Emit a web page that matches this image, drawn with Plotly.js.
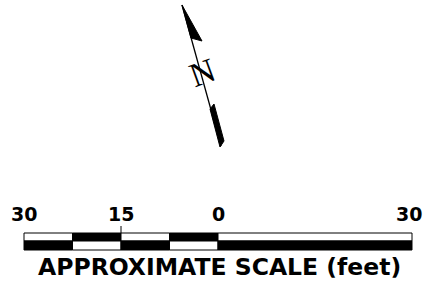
<!DOCTYPE html>
<html><head><meta charset="utf-8">
<script src="https://cdn.plot.ly/plotly-3.0.1.min.js"></script>
<style>html,body{margin:0;padding:0;background:#fff}#c{width:425px;height:286px}</style>
</head><body><div id="c"></div>
<script>
// Scale bar (feet)
const segEdges = [-30, -22.5, -15, -7.5, 0, 30];
const topRowBlack = [false, true, false, true, false];
const scaleLabelValues = [-30, -15, 0, 30];
const scaleLabelText = ['30', '15', '0', '30'];
const tickFeet = [-15];
const scaleTitle = 'APPROXIMATE SCALE (feet)';
// North arrow outline (drawing units)
const shaftX = [182, 221];
const shaftY = [5, 146];
const headTopX = [182, 202, 191, 182];
const headTopY = [5, 41, 38, 5];
const headBotX = [210, 214, 224, 220, 210];
const headBotY = [109, 104, 141, 147, 109];
const northLabel = 'N';

const barTop = 233, barMid = 241, barBot = 250;
const traces = [];
function rect(x0, x1, y0, y1, fill) {
  traces.push({x: [x0, x1, x1, x0, x0], y: [y0, y0, y1, y1, y0], mode: 'lines', fill: 'toself',
    fillcolor: fill, line: {color: '#000', width: 1}, hoverinfo: 'skip', showlegend: false});
}
for (let i = 0; i < segEdges.length - 1; i++) {
  rect(segEdges[i], segEdges[i+1], barTop, barMid, topRowBlack[i] ? '#000' : '#fff');
  rect(segEdges[i], segEdges[i+1], barMid, barBot, topRowBlack[i] ? '#fff' : '#000');
}
tickFeet.forEach(t => traces.push({x: [t, t], y: [226, barTop], mode: 'lines', line: {color: '#000', width: 1}, showlegend: false, hoverinfo: 'skip'}));
// arrow
traces.push({x: shaftX, y: shaftY, xaxis: 'x2', mode: 'lines', line: {color: '#000', width: 1.3}, showlegend: false, hoverinfo: 'skip'});
traces.push({x: headTopX, y: headTopY, xaxis: 'x2', mode: 'lines', fill: 'toself', fillcolor: '#000', line: {color: '#000', width: 1}, showlegend: false, hoverinfo: 'skip'});
traces.push({x: headBotX, y: headBotY, xaxis: 'x2', mode: 'lines', fill: 'toself', fillcolor: '#000', line: {color: '#000', width: 1}, showlegend: false, hoverinfo: 'skip'});

const annotations = scaleLabelValues.map((v, i) => ({x: v, y: 214, xref: 'x', yref: 'y', text: scaleLabelText[i],
  showarrow: false, xanchor: 'center', yanchor: 'middle', xshift: (i === 3 ? -3 : 0),
  font: {family: 'DejaVu Sans', size: 19, color: '#000', weight: 'bold'}}));
annotations.push({x: 219.5, y: 267, xref: 'x2', yref: 'y', text: scaleTitle, showarrow: false,
  xanchor: 'center', yanchor: 'middle', font: {family: 'DejaVu Sans', size: 23.5, color: '#000', weight: 'bold'}});
annotations.push({x: 202, y: 72, xref: 'x2', yref: 'y', text: northLabel, showarrow: false, textangle: -20,
  xanchor: 'center', yanchor: 'middle', font: {family: 'Liberation Serif', size: 34, color: '#000'}});

const pxPerFt = 388 / 60;
const ftLeft = -30 - 24 / pxPerFt, ftRight = 30 + 13 / pxPerFt;
const layout = {
  width: 425, height: 286, margin: {l: 0, r: 0, t: 0, b: 0},
  paper_bgcolor: '#fff', plot_bgcolor: '#fff',
  xaxis: {range: [ftLeft, ftRight], visible: false, fixedrange: true},
  xaxis2: {range: [0, 425], visible: false, overlaying: 'x', fixedrange: true},
  yaxis: {range: [286, 0], visible: false, fixedrange: true},
  annotations: annotations, showlegend: false
};
Plotly.newPlot('c', traces, layout, {displayModeBar: false, staticPlot: true});
</script></body></html>
